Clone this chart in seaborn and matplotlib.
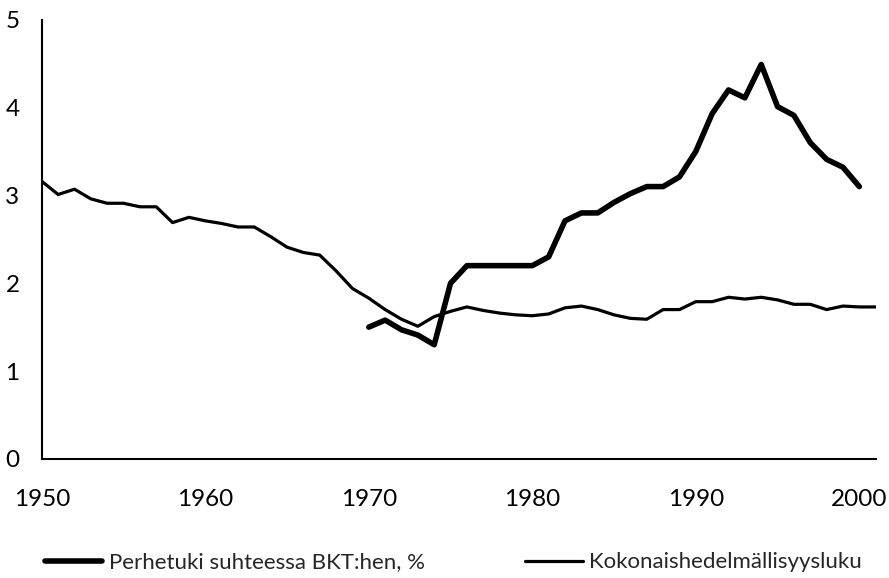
import matplotlib.pyplot as plt
import seaborn as sns
import pandas as pd
import numpy as np

# Years and series values
years = list(range(1950, 2002))
fertility = [3.16, 3.01, 3.07, 2.96, 2.91, 2.91, 2.87, 2.87, 2.69, 2.75,
             2.71, 2.68, 2.64, 2.64, 2.53, 2.41, 2.35, 2.32, 2.14, 1.94,
             1.83, 1.70, 1.59, 1.51, 1.62, 1.68, 1.73, 1.69, 1.66, 1.64,
             1.63, 1.65, 1.72, 1.74, 1.70, 1.64, 1.60, 1.59, 1.70, 1.70,
             1.79, 1.79, 1.84, 1.82, 1.84, 1.81, 1.76, 1.76, 1.70, 1.74,
             1.73, 1.73]

support_years = list(range(1970, 2001))
support = [1.50, 1.58, 1.47, 1.41, 1.30, 2.00, 2.20, 2.20, 2.20, 2.20,
           2.20, 2.30, 2.71, 2.80, 2.80, 2.92, 3.02, 3.10, 3.10, 3.21,
           3.50, 3.93, 4.20, 4.11, 4.49, 4.01, 3.91, 3.60, 3.41, 3.32,
           3.10]

label_support = "Perhetuki suhteessa BKT:hen, %"
label_fert = "Kokonaishedelmällisyysluku"

df_fert = pd.DataFrame({"year": years, "value": fertility})
df_supp = pd.DataFrame({"year": support_years, "value": support})

sns.set_style("white")
plt.rcParams['font.family'] = ['Lato', 'DejaVu Sans']

fig = plt.figure(figsize=(8.89, 5.78), dpi=100)
ax = fig.add_axes([0.047, 0.206, 0.938, 0.760])

sns.lineplot(data=df_supp, x="year", y="value", ax=ax, color="black",
             linewidth=4.0, label=label_support)
sns.lineplot(data=df_fert, x="year", y="value", ax=ax, color="black",
             linewidth=2.3, label=label_fert)

ax.set_xlim(1950, 2001)
ax.set_ylim(0, 5)
ax.set_xticks(np.arange(1950, 2001, 5))
ax.set_xticklabels([str(y) if y % 10 == 0 else "" for y in range(1950, 2001, 5)])
ax.set_yticks(range(0, 6))
ax.set_xlabel("")
ax.set_ylabel("")

for side in ["top", "right"]:
    ax.spines[side].set_visible(False)
for side in ["left", "bottom"]:
    ax.spines[side].set_color("black")
    ax.spines[side].set_linewidth(1.5)

ax.tick_params(axis="x", direction="in", length=6, width=1.2, pad=22,
               labelsize=17.5, colors="black")
ax.tick_params(axis="y", direction="in", length=6, width=1.2, pad=16,
               labelsize=17.5, colors="black")

ax.get_legend().remove()
handles, labels = ax.get_legend_handles_labels()
fig.legend(handles, labels, loc="center", bbox_to_anchor=(0.51, 0.027),
           ncol=2, frameon=False, fontsize=16, handlelength=2.6,
           handletextpad=0.3, columnspacing=4.5)

fig.savefig("out.png", dpi=100)
